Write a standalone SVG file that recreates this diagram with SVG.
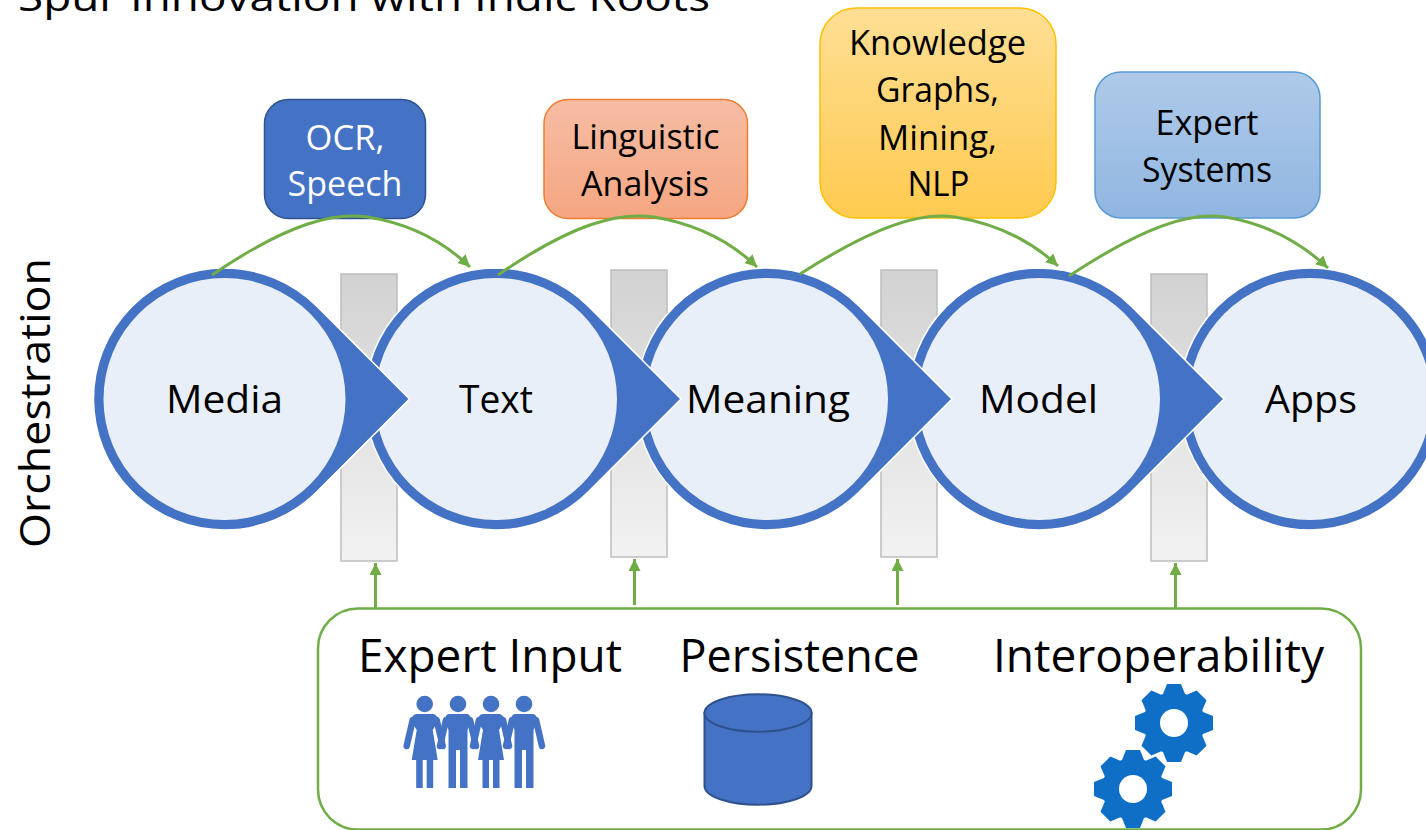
<svg xmlns="http://www.w3.org/2000/svg" xmlns:xlink="http://www.w3.org/1999/xlink" width="1426" height="830" viewBox="0 0 1426 830">
<style>
text{font-family:"Open Sans","Noto Sans","Liberation Sans",sans-serif;fill:#000;text-anchor:middle}
.t48{font-size:46px}.t40{font-size:39px}.t35{font-size:34px}
.bar{fill:url(#gBar);stroke:#bdbdbd;stroke-width:1.5}
.ring{fill:#4472c4;stroke:#fff;stroke-width:1.5;stroke-linejoin:miter}
.inner{fill:#e9eff8}
.box{stroke-width:1.5}
.conn{fill:none;stroke:#70ad47;stroke-width:3}
.icon{fill:#4472c4}
.arm{stroke:#4472c4;stroke-width:6.5;stroke-linecap:round;fill:none}
.gear{fill:#0f6fc6}
</style>
<defs>
<linearGradient id="gBar" x1="0" y1="0" x2="0" y2="1"><stop offset="0" stop-color="#d2d2d2"/><stop offset="1" stop-color="#f2f2f2"/></linearGradient>
<linearGradient id="gOrange" x1="0" y1="0" x2="0" y2="1"><stop offset="0" stop-color="#f6bda5"/><stop offset="1" stop-color="#f5a681"/></linearGradient>
<linearGradient id="gYellow" x1="0" y1="0" x2="0" y2="1"><stop offset="0" stop-color="#fedf95"/><stop offset="1" stop-color="#ffca4f"/></linearGradient>
<linearGradient id="gBlue" x1="0" y1="0" x2="0" y2="1"><stop offset="0" stop-color="#afcae9"/><stop offset="1" stop-color="#90b6e1"/></linearGradient>
<marker id="arrow" markerUnits="userSpaceOnUse" markerWidth="14" markerHeight="14" refX="12" refY="6" orient="auto"><path d="M0,0L12,6L0,12z" fill="#70ad47"/></marker>
<path id="drop" d="M0,-131A131,131 0 0 0 0,131A131,131 0 0 0 92.600,92.600L185,0L92.600,-92.600A131,131 0 0 0 0,-131z"/>
<g id="woman">
<circle cx="0" cy="704" r="8.300"/>
<path d="M-8,714H8Q13,714 13,722L8,730L13,760H-13L-8,730L-13,722Q-13,714 -8,714z"/>
<rect x="-8.500" y="755" width="6.500" height="33"/><rect x="2" y="755" width="6.500" height="33"/>
<path class="arm" d="M-12,720L-18,746M12,720L18,746"/>
</g>
<g id="man">
<circle cx="0" cy="704" r="8.300"/>
<path d="M-9,714H9Q13,714 13,722L9.500,730V788H2V750H-2V788H-9.500V730L-13,722Q-13,714 -9,714z"/>
<path class="arm" d="M-12,720L-18,746M12,720L18,746"/>
</g>
<g id="gear">
<circle r="31"/>
<path id="tooth" d="M-11,-29L-7,-39H7L11,-29V29L7,39H-7L-11,29z"/>
<use xlink:href="#tooth" href="#tooth" transform="rotate(45)"/>
<use xlink:href="#tooth" href="#tooth" transform="rotate(90)"/>
<use xlink:href="#tooth" href="#tooth" transform="rotate(135)"/>
<circle r="14" fill="#fff"/>
</g>
</defs>
<rect width="1426" height="830" fill="#fff"/>
<text id="title" x="364" y="11" font-size="39" textLength="692" lengthAdjust="spacingAndGlyphs">Spur Innovation with Indic Roots</text>
<text id="orchestration" transform="translate(50,403) rotate(-90)" font-size="42" textLength="290" lengthAdjust="spacingAndGlyphs">Orchestration</text>
<g id="bars">
<rect class="bar" x="341" y="274" width="56" height="287"/>
<rect class="bar" x="611" y="270" width="56" height="287"/>
<rect class="bar" x="881" y="270" width="56" height="287"/>
<rect class="bar" x="1151" y="274" width="56" height="287"/>
</g>
<g id="node-apps"><circle cx="1310" cy="399" r="131" class="ring"/><circle cx="1310" cy="399" r="121" class="inner"/><text class="t40" x="1311" y="413" textLength="92" lengthAdjust="spacingAndGlyphs">Apps</text></g>
<g id="node-model"><use xlink:href="#drop" href="#drop" class="ring" x="1039" y="399"/><circle cx="1039" cy="399" r="121" class="inner"/><text class="t40" x="1038.500" y="413" textLength="119" lengthAdjust="spacingAndGlyphs">Model</text></g>
<g id="node-meaning"><use xlink:href="#drop" href="#drop" class="ring" x="767" y="399"/><circle cx="767" cy="399" r="121" class="inner"/><text class="t40" x="768" y="413" textLength="164" lengthAdjust="spacingAndGlyphs">Meaning</text></g>
<g id="node-text"><use xlink:href="#drop" href="#drop" class="ring" x="496" y="399"/><circle cx="496" cy="399" r="121" class="inner"/><text class="t40" x="496" y="413" textLength="74" lengthAdjust="spacingAndGlyphs">Text</text></g>
<g id="node-media"><use xlink:href="#drop" href="#drop" class="ring" x="224.500" y="399"/><circle cx="224.500" cy="399" r="121" class="inner"/><text class="t40" x="224.500" y="413" textLength="117" lengthAdjust="spacingAndGlyphs">Media</text></g>
<g id="node-ocr"><rect class="box" x="264.500" y="99.500" width="161" height="119" rx="24" fill="#4472c4" stroke="#2f528f"/><text class="t35" x="345" y="150" style="fill:#fff" textLength="79" lengthAdjust="spacingAndGlyphs">OCR,</text><text class="t35" x="345" y="196" style="fill:#fff" textLength="115" lengthAdjust="spacingAndGlyphs">Speech</text></g>
<g id="node-linguistic"><rect class="box" x="544" y="99.500" width="203.500" height="119" rx="24" fill="url(#gOrange)" stroke="#ed7d31"/><text class="t35" x="645.500" y="149" textLength="148" lengthAdjust="spacingAndGlyphs">Linguistic</text><text class="t35" x="645" y="196" textLength="128" lengthAdjust="spacingAndGlyphs">Analysis</text></g>
<g id="node-knowledge"><rect class="box" x="820" y="8" width="236" height="210" rx="36" fill="url(#gYellow)" stroke="#ffc000"/><text class="t35" x="937.500" y="55" textLength="177" lengthAdjust="spacingAndGlyphs">Knowledge</text><text class="t35" x="937.500" y="102" textLength="123" lengthAdjust="spacingAndGlyphs">Graphs,</text><text class="t35" x="937.500" y="150" textLength="119" lengthAdjust="spacingAndGlyphs">Mining,</text><text class="t35" x="938.500" y="196" textLength="62" lengthAdjust="spacingAndGlyphs">NLP</text></g>
<g id="node-expert"><rect class="box" x="1095" y="72" width="225" height="146" rx="26" fill="url(#gBlue)" stroke="#5b9bd5"/><text class="t35" x="1207" y="135" textLength="103" lengthAdjust="spacingAndGlyphs">Expert</text><text class="t35" x="1207" y="182" textLength="130" lengthAdjust="spacingAndGlyphs">Systems</text></g>
<g id="connectors">
<path class="conn" marker-end="url(#arrow)" d="M212,275C290,222 335,212 368,217C405,223 440,238 470,267"/>
<path class="conn" marker-end="url(#arrow)" d="M498,275C575,222 620,212 654,217C690,223 727,238 757,267"/>
<path class="conn" marker-end="url(#arrow)" d="M800,274C875,226 920,212 955,217C992,223 1028,238 1058,266"/>
<path class="conn" marker-end="url(#arrow)" d="M1069,276C1145,226 1190,212 1225,217C1262,223 1298,240 1328,268"/>
<path class="conn" marker-end="url(#arrow)" d="M375.500,608V563"/>
<path class="conn" marker-end="url(#arrow)" d="M634.500,605V559"/>
<path class="conn" marker-end="url(#arrow)" d="M897.500,605V559"/>
<path class="conn" marker-end="url(#arrow)" d="M1175.500,608V563"/>
</g>
<g id="node-platform">
<rect x="318" y="608.500" width="1043" height="221" rx="40" fill="#fff" stroke="#70ad47" stroke-width="2.500"/>
<text class="t48" x="490" y="672" textLength="264" lengthAdjust="spacingAndGlyphs">Expert Input</text>
<text class="t48" x="799.500" y="672" textLength="240" lengthAdjust="spacingAndGlyphs">Persistence</text>
<text class="t48" x="1158.500" y="672" textLength="331" lengthAdjust="spacingAndGlyphs">Interoperability</text>
</g>
<g id="icon-people" class="icon">
<use xlink:href="#woman" href="#woman" x="424.700"/>
<use xlink:href="#man" href="#man" x="458"/>
<use xlink:href="#woman" href="#woman" x="491"/>
<use xlink:href="#man" href="#man" x="524"/>
</g>
<g id="icon-database">
<path d="M704.500,713V786A53.500,18.700 0 0 0 811.500,786V713z" fill="#4472c4" stroke="#2f528f" stroke-width="2"/>
<ellipse cx="758" cy="713" rx="53.500" ry="18.700" fill="#4472c4" stroke="#2f528f" stroke-width="2"/>
</g>
<g id="icon-gears" class="gear">
<use xlink:href="#gear" href="#gear" transform="translate(1174,723)"/>
<use xlink:href="#gear" href="#gear" transform="translate(1133,789)"/>
</g>
</svg>
